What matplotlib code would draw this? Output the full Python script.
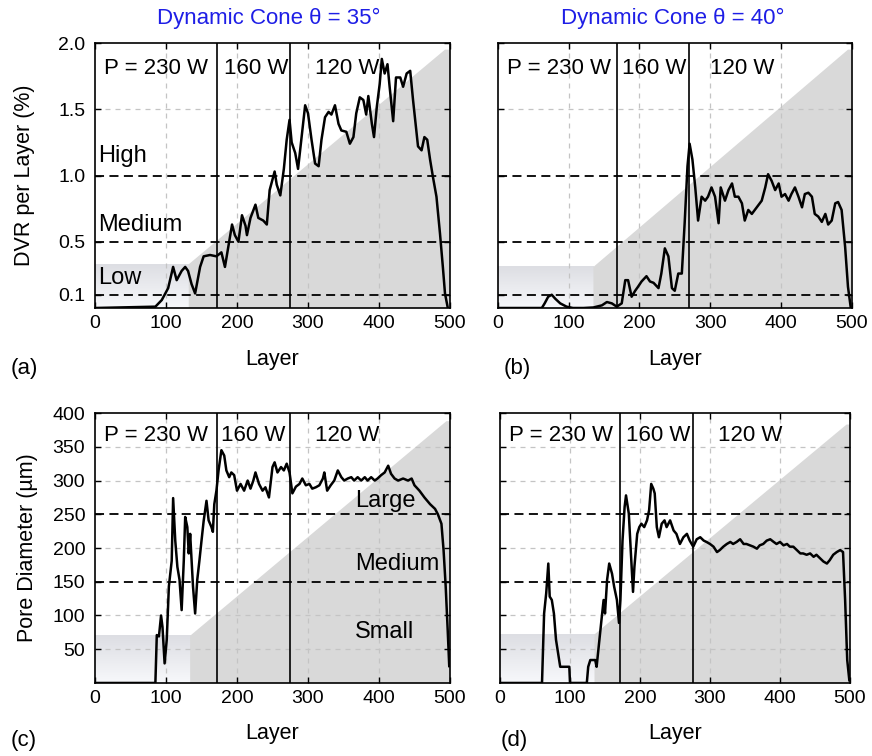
import matplotlib
matplotlib.use("Agg")
import matplotlib.pyplot as plt
import numpy as np

plt.rcParams['font.family'] = ['Liberation Sans', 'DejaVu Sans']
plt.rcParams['font.size'] = 14

# ---- data ----
# (a) DVR per layer, cone 35 deg
a_layer = [0, 85, 94, 103, 110, 115, 122, 127, 131, 136, 141, 148, 153, 162, 171, 178, 183, 188, 193,
           197, 202, 207, 212, 214, 219, 226, 230, 237, 242, 246, 253, 256, 261, 266, 270, 274, 277,
           282, 286, 291, 296, 300, 305, 310, 315, 319, 324, 329, 333, 338, 343, 347, 354, 359, 364,
           368, 373, 378, 382, 385, 390, 393, 397, 401, 404, 408, 412, 415, 420, 424, 430, 434, 439,
           444, 448, 455, 460, 464, 468, 472, 476, 481, 486, 490, 493, 497]
a_dvr = [0, 0.01, 0.06, 0.15, 0.31, 0.21, 0.28, 0.31, 0.28, 0.18, 0.11, 0.31, 0.39, 0.40, 0.39, 0.42,
         0.31, 0.47, 0.63, 0.55, 0.50, 0.70, 0.62, 0.55, 0.68, 0.78, 0.68, 0.66, 0.63, 0.89, 1.03, 0.93,
         0.85, 1.05, 1.27, 1.42, 1.25, 1.17, 1.05, 1.29, 1.53, 1.47, 1.27, 1.09, 1.07, 1.27, 1.44, 1.48,
         1.46, 1.53, 1.39, 1.34, 1.33, 1.24, 1.29, 1.47, 1.59, 1.57, 1.46, 1.60, 1.39, 1.29, 1.52, 1.69,
         1.88, 1.77, 1.84, 1.67, 1.41, 1.74, 1.74, 1.67, 1.77, 1.79, 1.57, 1.22, 1.19, 1.29, 1.27, 1.12,
         0.99, 0.84, 0.56, 0.31, 0.11, 0.0]

# (b) DVR per layer, cone 40 deg
b_layer = [0, 62, 66, 71, 76, 81, 88, 97, 106, 121, 135, 147, 154, 161, 168, 175, 180, 184, 189, 194,
           198, 203, 210, 215, 220, 227, 231, 236, 241, 246, 250, 255, 260, 264, 268, 271, 275, 279,
           283, 288, 293, 297, 302, 307, 312, 315, 321, 326, 331, 335, 340, 345, 349, 354, 359, 366,
           373, 378, 382, 387, 392, 397, 401, 406, 411, 415, 420, 425, 430, 434, 439, 444, 448, 453,
           458, 463, 467, 472, 477, 481, 486, 491, 495, 499]
b_dvr = [0, 0, 0.035, 0.085, 0.10, 0.07, 0.035, 0.01, 0, 0, 0.004, 0.02, 0.045, 0.035, 0.01, 0.035,
         0.21, 0.21, 0.085, 0.13, 0.16, 0.20, 0.24, 0.20, 0.19, 0.15, 0.26, 0.45, 0.39, 0.15, 0.13, 0.26,
         0.26, 0.64, 1.07, 1.24, 1.12, 0.91, 0.66, 0.84, 0.81, 0.84, 0.91, 0.84, 0.64, 0.91, 0.81, 0.89,
         0.94, 0.84, 0.84, 0.79, 0.66, 0.74, 0.71, 0.76, 0.81, 0.91, 1.01, 0.96, 0.89, 0.94, 0.84, 0.86,
         0.81, 0.86, 0.91, 0.84, 0.76, 0.86, 0.87, 0.84, 0.71, 0.69, 0.65, 0.71, 0.63, 0.66, 0.79, 0.80,
         0.74, 0.46, 0.16, 0.0]

# (c) pore diameter, cone 35 deg
c_layer = [0, 85, 87, 90, 93, 95, 98, 101, 104, 108, 110, 113, 116, 119, 122, 125, 127, 130, 132, 134,
           138, 141, 144, 147, 150, 153, 157, 160, 164, 166, 168, 171, 174, 178, 182, 185, 189, 192,
           196, 200, 205, 210, 215, 219, 223, 226, 231, 236, 240, 245, 250, 253, 257, 262, 266, 270,
           274, 278, 283, 288, 292, 297, 302, 306, 311, 316, 321, 323, 327, 332, 337, 342, 347, 351,
           356, 361, 365, 370, 375, 380, 384, 389, 394, 398, 403, 408, 413, 417, 422, 427, 434, 441,
           446, 450, 457, 464, 472, 479, 483, 488, 491, 494, 497, 499]
c_diam = [0, 0, 71, 69, 100, 83, 29, 64, 143, 181, 274, 211, 172, 153, 108, 181, 246, 231, 192, 221,
          143, 103, 153, 181, 211, 240, 270, 241, 231, 224, 265, 285, 315, 345, 337, 315, 305, 312, 308,
          285, 295, 285, 300, 288, 300, 312, 295, 285, 290, 275, 320, 327, 312, 320, 315, 325, 312, 281,
          291, 295, 303, 293, 295, 288, 290, 293, 303, 312, 285, 293, 300, 315, 305, 300, 303, 305, 300,
          305, 300, 305, 300, 305, 300, 303, 308, 312, 322, 310, 303, 300, 303, 300, 303, 293, 285, 275,
          265, 258, 250, 236, 197, 143, 74, 25]

# (d) pore diameter, cone 40 deg
d_layer = [0, 60, 63, 66, 69, 71, 74, 77, 80, 83, 86, 91, 95, 99, 100, 124, 126, 129, 136, 138, 141,
           145, 148, 150, 153, 156, 160, 163, 167, 170, 172, 175, 178, 180, 184, 187, 190, 192, 196,
           199, 202, 206, 210, 213, 216, 219, 221, 224, 227, 231, 235, 238, 243, 248, 252, 257, 262,
           267, 271, 276, 281, 286, 291, 295, 300, 305, 310, 314, 319, 324, 329, 333, 338, 343, 348,
           352, 357, 362, 367, 371, 376, 381, 386, 391, 395, 400, 405, 410, 414, 419, 424, 429, 433,
           438, 443, 448, 452, 457, 462, 467, 471, 476, 481, 486, 490, 493, 496, 499]
d_diam = [0, 0, 103, 133, 177, 128, 123, 103, 64, 44, 24, 24, 24, 24, 0, 0, 24, 34, 34, 24, 54, 94,
          123, 103, 153, 177, 162, 143, 123, 89, 123, 211, 261, 278, 251, 192, 135, 172, 221, 231, 236,
          231, 241, 256, 295, 288, 281, 231, 216, 236, 241, 231, 241, 226, 221, 206, 216, 221, 211, 202,
          213, 216, 211, 209, 206, 202, 194, 197, 202, 206, 209, 206, 209, 213, 206, 206, 204, 202, 199,
          204, 206, 211, 213, 209, 206, 209, 204, 206, 202, 202, 197, 192, 192, 190, 192, 187, 190, 185,
          180, 177, 182, 190, 194, 197, 194, 123, 34, 4]

power_labels = ['P = 230 W', '160 W', '120 W']
dvr_classes = ['High', 'Medium', 'Low']
pore_classes = ['Large', 'Medium', 'Small']
titles = ['Dynamic Cone \u03b8 = 35\u00b0', 'Dynamic Cone \u03b8 = 40\u00b0']

fig = plt.figure(figsize=(8.72, 7.56), dpi=100)

positions = {
    'a': [0.109, 0.5926, 0.407, 0.3505],
    'b': [0.5711, 0.5926, 0.4054, 0.3505],
    'c': [0.109, 0.0966, 0.407, 0.357],
    'd': [0.5734, 0.0966, 0.4014, 0.357],
}


def gradient_box(ax, x1, h):
    # light shaded box in the lower-left corner
    grad = np.linspace(0, 1, 64).reshape(-1, 1)
    cmap = matplotlib.colors.LinearSegmentedColormap.from_list('g', ['#f7f8fb', '#dddee3'])
    ax.imshow(grad, extent=[0, x1, 0, h], origin='lower', cmap=cmap, aspect='auto', zorder=0)


def setup(ax, layer, vals, ymax, yticks, ytlabels, thresholds, grid_y, x_split, start, end,
          powers_x, y_text, left):
    ax.set_xlim(0, 500)
    ax.set_ylim(0, ymax)
    # shaded regions
    gradient_box(ax, start[0], start[1])
    ax.fill([start[0], start[0], end[0], 500, 500], [0, start[1], end[1], end[1], 0],
            color='#d9d9d9', lw=0, zorder=0.5)
    # grid
    for gx in [100, 200, 300, 400]:
        ax.axvline(gx, color='#c4c4c4', lw=0.9, ls=(0, (4, 4)), zorder=1)
    for gy in grid_y:
        ax.axhline(gy, color='#c4c4c4', lw=0.9, ls=(0, (4, 4)), zorder=1)
    for t in thresholds:
        ax.axhline(t, color='black', lw=1.3, ls=(0, (5, 3)), zorder=2)
    for xs in x_split:
        ax.axvline(xs, color='black', lw=1.2, zorder=2)
    ax.plot(layer, vals, color='black', lw=1.8, zorder=3)
    for x, lab in zip(powers_x, power_labels):
        ax.text(x, y_text, lab, fontsize=16, va='center', ha='left', zorder=4)
    ax.set_xticks([0, 100, 200, 300, 400, 500])
    ax.set_yticks(yticks)
    if left:
        ax.set_yticklabels(ytlabels)
    else:
        ax.set_yticklabels([])
    ax.tick_params(direction='in', top=True, right=True, length=4, width=1, labelsize=14)
    ax.tick_params(axis='x', pad=5)
    ax.tick_params(axis='y', pad=7)
    for s in ax.spines.values():
        s.set_linewidth(1.2)
    ax.set_xlabel('Layer', fontsize=15.5)


dvr_ticks = [0.1, 0.5, 1.0, 1.5, 2.0]
dvr_tl = ['0.1', '0.5', '1.0', '1.5', '2.0']
pore_ticks = [50, 100, 150, 200, 250, 300, 350, 400]
pore_tl = [str(v) for v in pore_ticks]

ax_a = fig.add_axes(positions['a'])
setup(ax_a, a_layer, a_dvr, 2.0, dvr_ticks, dvr_tl, [0.1, 0.5, 1.0], [1.5], [172, 274],
      (132, 0.33), (493, 1.95), [13, 181, 310], 1.81, True)
ax_a.set_ylabel('DVR per Layer (%)', fontsize=15.5)
ax_a.yaxis.set_label_coords(-0.168, 0.5)
ax_a.xaxis.set_label_coords(0.5, -0.155)
ax_a.text(5, 1.15, dvr_classes[0], fontsize=17, va='center')
ax_a.text(5, 0.63, dvr_classes[1], fontsize=17, va='center')
ax_a.text(5, 0.23, dvr_classes[2], fontsize=17, va='center')

ax_b = fig.add_axes(positions['b'])
setup(ax_b, b_layer, b_dvr, 2.0, dvr_ticks, dvr_tl, [0.1, 0.5, 1.0], [1.5], [168, 270],
      (135, 0.31), (495, 1.95), [13, 176, 300], 1.81, False)
ax_b.xaxis.set_label_coords(0.5, -0.155)

ax_c = fig.add_axes(positions['c'])
setup(ax_c, c_layer, c_diam, 400, pore_ticks, pore_tl, [150, 250], [50, 100, 200, 300, 350],
      [172, 275], (134, 70), (495, 388), [13, 178, 310], 367, True)
ax_c.set_ylabel('Pore Diameter (\u00b5m)', fontsize=15.5)
ax_c.yaxis.set_label_coords(-0.16, 0.5)
ax_c.xaxis.set_label_coords(0.5, -0.148)
ax_c.text(366, 270, pore_classes[0], fontsize=17, va='center', ha='left')
ax_c.text(366, 177, pore_classes[1], fontsize=17, va='center', ha='left')
ax_c.text(366, 76, pore_classes[2], fontsize=17, va='center', ha='left')

ax_d = fig.add_axes(positions['d'])
setup(ax_d, d_layer, d_diam, 400, pore_ticks, pore_tl, [150, 250], [50, 100, 200, 300, 350],
      [172, 276], (135, 72), (495, 383), [13, 180, 312], 367, False)
ax_d.xaxis.set_label_coords(0.5, -0.148)

# column titles
fig.text(0.308, 0.976, titles[0], color='#1e1ee6', fontsize=16, ha='center', va='center')
fig.text(0.772, 0.976, titles[1], color='#1e1ee6', fontsize=16, ha='center', va='center')

# panel letters
fig.text(0.012, 0.513, '(a)', fontsize=16, va='center')
fig.text(0.577, 0.513, '(b)', fontsize=16, va='center')
fig.text(0.012, 0.021, '(c)', fontsize=16, va='center')
fig.text(0.574, 0.021, '(d)', fontsize=16, va='center')

fig.savefig('out.png', dpi=100)
